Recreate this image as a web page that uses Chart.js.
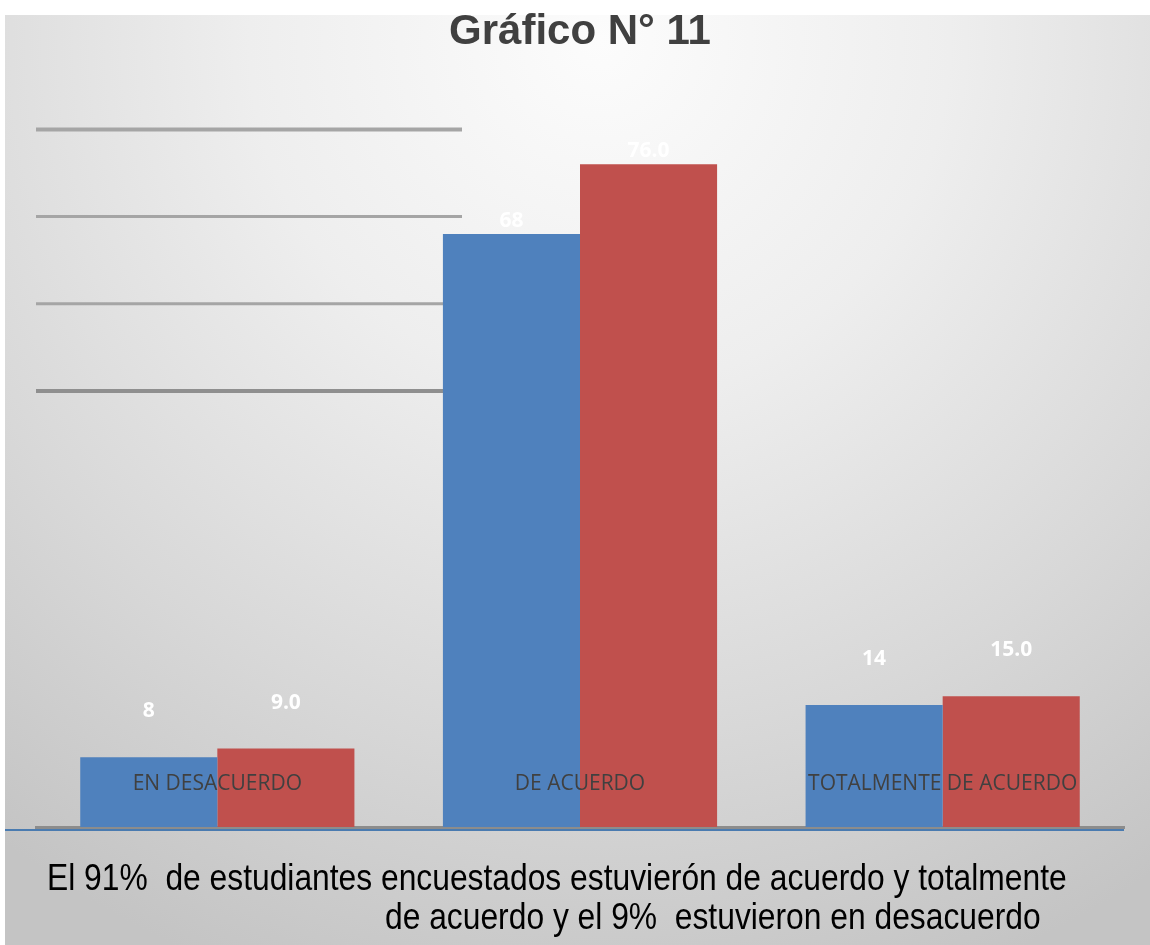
<!DOCTYPE html>
<html>
<head>
<meta charset="utf-8">
<script src="https://cdn.jsdelivr.net/npm/chart.js@4/dist/chart.umd.min.js"></script>
<style>
  html, body { margin: 0; padding: 0; background: #fff; }
  #wrap { position: relative; width: 1150px; height: 945px; }
  canvas { position: absolute; left: 0; top: 0; }
  .nota {
    position: absolute; white-space: pre; color: #000;
    font-family: 'Liberation Sans', Arial, sans-serif;
    font-size: 36px; line-height: 40px;
    transform: scaleX(0.883); transform-origin: 0 0;
  }
</style>
</head>
<body>
<div id="wrap">
  <canvas id="grafico" width="1150" height="945"></canvas>
  <div class="nota" style="left:47px; top:858px;">El 91%  de estudiantes encuestados estuvierón de acuerdo y totalmente</div>
  <div class="nota" style="left:385px; top:897px;">de acuerdo y el 9%  estuvieron en desacuerdo</div>
</div>
<script>
// datos del gráfico
const categorias = ['EN DESACUERDO', 'DE ACUERDO', 'TOTALMENTE DE ACUERDO'];
const serieA = [8, 68, 14];
const serieB = [9.0, 76.0, 15.0];
const lineasGuia = [50, 60, 70, 80];

const AZUL = '#4F81BD';
const ROJO = '#C0504D';

// fondo gris degradado y adornos
const fondo = {
  id: 'fondo',
  beforeDraw(chart) {
    const ctx = chart.ctx;
    ctx.save();
    ctx.fillStyle = '#ffffff';
    ctx.fillRect(0, 0, chart.width, chart.height);
    const g = ctx.createRadialGradient(600, 40, 0, 600, 40, 1000);
    g.addColorStop(0, '#fcfcfc');
    g.addColorStop(0.35, '#eeeeee');
    g.addColorStop(0.7, '#d8d8d8');
    g.addColorStop(1, '#c4c4c4');
    ctx.fillStyle = g;
    ctx.fillRect(5, 15, chart.width - 5, chart.height - 15);
    ctx.restore();
  },
  beforeDatasetsDraw(chart) {
    // restos de líneas de división a la izquierda
    const ctx = chart.ctx;
    const y = chart.scales.y;
    const a = chart.chartArea;
    ctx.save();
    lineasGuia.forEach((v, i) => {
      const py = y.getPixelForValue(v);
      ctx.strokeStyle = i === 0 ? '#8f8f8f' : '#a5a5a5';
      ctx.lineWidth = (i === 0 || i === 3) ? 4 : 3;
      ctx.beginPath();
      ctx.moveTo(a.left, py);
      ctx.lineTo(a.left + 426, py);
      ctx.stroke();
    });
    ctx.restore();
  },
  afterDatasetsDraw(chart) {
    const ctx = chart.ctx;
    const a = chart.chartArea;
    const x = chart.scales.x;
    ctx.save();
    // línea azul bajo el eje
    ctx.strokeStyle = '#4a7bb0';
    ctx.lineWidth = 2;
    ctx.beginPath();
    ctx.moveTo(5, a.bottom + 3);
    ctx.lineTo(a.right, a.bottom + 3);
    ctx.stroke();

    // etiquetas de categoría dentro de las barras
    ctx.fillStyle = '#404040';
    ctx.font = '21px "Open Sans"';
    ctx.textAlign = 'center';
    ctx.textBaseline = 'middle';
    categorias.forEach((c, i) => {
      ctx.fillText(c, x.getPixelForValue(i), a.bottom - 43);
    });

    // valores sobre las barras
    ctx.fillStyle = '#ffffff';
    ctx.font = 'bold 21px "Open Sans"';
    chart.data.datasets.forEach((ds, di) => {
      chart.getDatasetMeta(di).data.forEach((bar, i) => {
        const txt = di === 0 ? String(ds.data[i]) : ds.data[i].toFixed(1);
        const off = bar.y < 300 ? 13 : 46;
        ctx.fillText(txt, bar.x, bar.y - off);
      });
    });
    ctx.restore();
  }
};

new Chart(document.getElementById('grafico'), {
  type: 'bar',
  data: {
    labels: categorias,
    datasets: [
      { label: 'Serie 1', data: serieA, backgroundColor: AZUL },
      { label: 'Serie 2', data: serieB, backgroundColor: ROJO }
    ]
  },
  options: {
    responsive: false,
    animation: false,
    categoryPercentage: 0.756,
    barPercentage: 1,
    layout: { padding: { left: 36, right: 26, top: 0, bottom: 118 } },
    plugins: {
      legend: { display: false },
      tooltip: { enabled: false },
      title: {
        display: true,
        text: 'Gráfico N° 11',
        color: '#404040',
        font: { family: "'Liberation Sans', Arial, sans-serif", size: 42, weight: 'bold', lineHeight: 1.2 },
        padding: { top: 7, bottom: 72 }
      }
    },
    scales: {
      x: {
        grid: { display: false, drawTicks: false },
        ticks: { display: false },
        border: { display: true, color: '#8c8c8c', width: 3 }
      },
      y: {
        display: false,
        min: 0,
        max: 80
      }
    }
  },
  plugins: [fondo]
});
</script>
</body>
</html>
